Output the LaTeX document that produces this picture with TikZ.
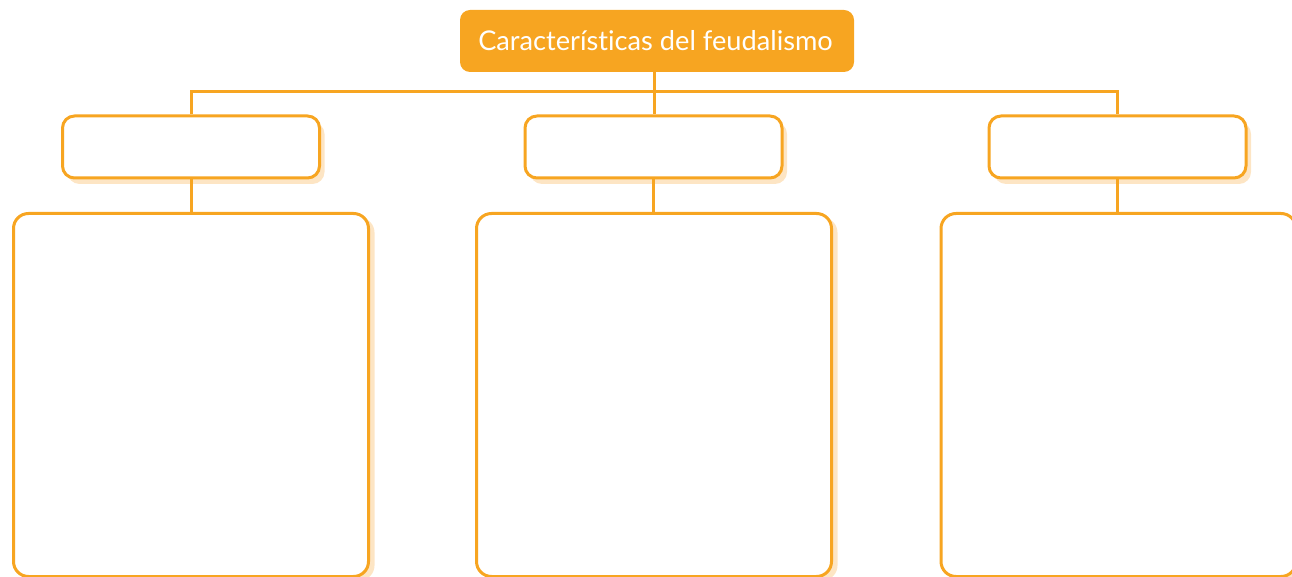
\documentclass[tikz,border=0pt]{standalone}
\usepackage{fontspec}
\setmainfont[Ligatures=CommonOff]{Lato}
\usetikzlibrary{shadows}
\definecolor{orng}{HTML}{F7A521}
\definecolor{shd}{HTML}{FDE5C4}
\tikzset{
  x=1pt,y=-1pt,
  conn/.style={draw=orng,line width=3pt},
  title/.style={rectangle,rounded corners=10pt,fill=orng,text=white,inner sep=0pt,minimum width=394pt,minimum height=62pt,font=\fontsize{27.2}{32}\selectfont},
  smallbox/.style={rectangle,rounded corners=12pt,draw=orng,line width=3pt,fill=white,minimum width=257pt,minimum height=62pt,inner sep=0pt,
    drop shadow={shadow xshift=5pt,shadow yshift=-6pt,fill=shd,opacity=1}},
  bigbox/.style={rectangle,rounded corners=15pt,draw=orng,line width=3pt,fill=white,minimum width=355pt,minimum height=363pt,inner sep=0pt,
    drop shadow={shadow xshift=6pt,shadow yshift=-4pt,fill=shd,opacity=1}},
}
\begin{document}
\begin{tikzpicture}
\useasboundingbox (0,0) rectangle (1292,577);
\node[title] (t) at (657,41) {\hspace*{-3pt}Características del feudalismo};
\node[smallbox] (s1) at (191,147) {};
\node[smallbox] (s2) at (653.5,147) {};
\node[smallbox] (s3) at (1117.5,147) {};
\node[bigbox] (b1) at (191,395) {};
\node[bigbox] (b2) at (654,395) {};
\node[bigbox] (b3) at (1118.5,395) {};
\coordinate (bus) at (654,92);
\draw[conn] (t.south -| bus) -- (bus |- s2.north);
\draw[conn] (s1.north) -- (s1.north |- bus) -- (s3.north |- bus) -- (s3.north);
\draw[conn] (s1.south) -- (s1.south |- b1.north);
\draw[conn] (s2.south) -- (s2.south |- b2.north);
\draw[conn] (s3.south) -- (s3.south |- b3.north);
\end{tikzpicture}
\end{document}
